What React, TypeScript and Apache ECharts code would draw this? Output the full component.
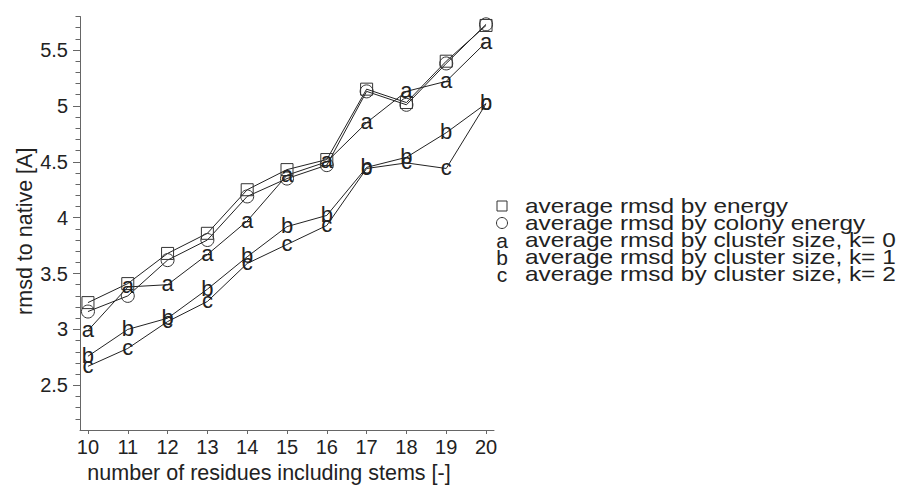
import React, { useEffect, useRef } from "react";
import * as echarts from "echarts";

// ---- data ----
const residues = [10, 11, 12, 13, 14, 15, 16, 17, 18, 19, 20];
const rmsdEnergy = [3.24, 3.41, 3.68, 3.86, 4.25, 4.43, 4.52, 5.15, 5.03, 5.4, 5.72];
const rmsdColony = [3.16, 3.3, 3.62, 3.8, 4.19, 4.35, 4.47, 5.13, 5.01, 5.38, 5.73];
const rmsdK0 = [2.99, 3.38, 3.4, 3.67, 3.97, 4.38, 4.5, 4.85, 5.13, 5.22, 5.57];
const rmsdK1 = [2.76, 3.0, 3.1, 3.36, 3.65, 3.92, 4.02, 4.45, 4.54, 4.76, 5.02];
const rmsdK2 = [2.67, 2.83, 3.07, 3.25, 3.59, 3.76, 3.93, 4.44, 4.49, 4.44, 5.02];

const xTicks = [10, 11, 12, 13, 14, 15, 16, 17, 18, 19, 20];
const yMajorTicks = [2.5, 3, 3.5, 4, 4.5, 5, 5.5];
const yMinorTicks = [
  2.2, 2.3, 2.4, 2.6, 2.7, 2.8, 2.9, 3.1, 3.2, 3.3, 3.4, 3.6, 3.7, 3.8, 3.9,
  4.1, 4.2, 4.3, 4.4, 4.6, 4.7, 4.8, 4.9, 5.1, 5.2, 5.3, 5.4, 5.6, 5.7, 5.8,
];

const seriesNames = [
  "average rmsd by energy",
  "average rmsd by colony energy",
  "average rmsd by cluster size, k= 0",
  "average rmsd by cluster size, k= 1",
  "average rmsd by cluster size, k= 2",
];
const letterMarks = ["a", "b", "c"];

const xTitle = "number of residues including stems [-]";
const yTitle = "rmsd to native [A]";

// ---- styling ----
const FONT = "'Liberation Sans', Arial, Helvetica, sans-serif";
const INK = "#222";
const AXIS = "#666";

function pairs(vals: number[]) {
  return residues.map((x, i) => [x, vals[i]]);
}

export default function App() {
  const ref = useRef<HTMLDivElement>(null);

  useEffect(() => {
    if (!ref.current) return;
    const chart = echarts.init(ref.current, null, { renderer: "svg" });

    const lineStyle = { color: INK, width: 1 };

    const letterSeries = [rmsdK0, rmsdK1, rmsdK2].map((vals, i) => ({
      type: "line",
      name: seriesNames[i + 2],
      data: pairs(vals),
      symbol: "circle",
      symbolSize: 2,
      itemStyle: { color: "rgba(0,0,0,0)" },
      lineStyle,
      label: {
        show: true,
        position: "inside",
        formatter: letterMarks[i],
        fontSize: 22,
        fontFamily: FONT,
        color: INK,
        offset: [0, -1],
      },
      silent: true,
    }));

    const legendX = 502;
    const legendTextX = 525;
    const rowY = [206, 223, 240, 257, 274];

    const graphic: any[] = [
      {
        type: "rect",
        shape: { x: legendX - 5, y: rowY[0] - 5, width: 10, height: 10 },
        style: { fill: "none", stroke: "#333", lineWidth: 1 },
      },
      {
        type: "circle",
        shape: { cx: legendX, cy: rowY[1], r: 5.5 },
        style: { fill: "none", stroke: "#333", lineWidth: 1 },
      },
    ];
    letterMarks.forEach((m, i) => {
      graphic.push({
        type: "text",
        x: legendX,
        y: rowY[i + 2],
        style: {
          text: m,
          fontSize: 21,
          fontFamily: FONT,
          fill: INK,
          align: "center",
          verticalAlign: "middle",
        },
      });
    });
    seriesNames.forEach((name, i) => {
      graphic.push({
        type: "text",
        x: legendTextX,
        y: rowY[i],
        scaleX: 1.22,
        style: {
          text: name,
          fontSize: 20,
          fontFamily: FONT,
          fill: INK,
          align: "left",
          verticalAlign: "middle",
        },
      });
    });

    chart.setOption({
      animation: false,
      backgroundColor: "#fff",
      grid: {
        left: 80,
        right: 406,
        top: 16.5,
        bottom: 55,
        containLabel: false,
        outerBoundsMode: "none",
      },
      xAxis: {
        type: "value",
        min: 9.8,
        max: 20.2,
        axisLine: { show: true, onZero: false, lineStyle: { color: AXIS, width: 1 } },
        axisTick: { show: true, length: 4, customValues: xTicks, lineStyle: { color: AXIS } },
        axisLabel: {
          customValues: xTicks,
          margin: 7,
          fontSize: 20,
          fontFamily: FONT,
          color: INK,
        },
        splitLine: { show: false },
        name: xTitle,
        nameLocation: "middle",
        nameGap: 27,
        nameTextStyle: {
          fontSize: 21.5,
          fontFamily: FONT,
          color: INK,
          padding: [0, 36, 0, 0],
        },
      },
      yAxis: [
        {
          type: "value",
          min: 2.1,
          max: 5.8,
          position: "left",
          axisLine: { show: true, onZero: false, lineStyle: { color: AXIS, width: 1 } },
          axisTick: { show: true, length: 7, customValues: yMajorTicks, lineStyle: { color: AXIS } },
          axisLabel: {
            customValues: yMajorTicks,
            margin: 12,
            fontSize: 20,
            fontFamily: FONT,
            color: INK,
          },
          splitLine: { show: false },
          name: yTitle,
          nameLocation: "middle",
          nameGap: 44,
          nameRotate: 90,
          nameTextStyle: {
            fontSize: 21.5,
            fontFamily: FONT,
            color: INK,
            padding: [0, 16, 0, 0],
          },
        },
        {
          type: "value",
          min: 2.1,
          max: 5.8,
          position: "left",
          offset: 0,
          axisLine: { show: false },
          axisTick: { show: true, length: 4.5, customValues: yMinorTicks, lineStyle: { color: AXIS } },
          axisLabel: { show: false },
          splitLine: { show: false },
        },
      ],
      series: [
        {
          type: "line",
          name: seriesNames[0],
          data: pairs(rmsdEnergy),
          symbol: "rect",
          symbolSize: 12,
          itemStyle: { color: "rgba(0,0,0,0)", borderColor: "#333", borderWidth: 1 },
          lineStyle,
          silent: true,
        },
        {
          type: "line",
          name: seriesNames[1],
          data: pairs(rmsdColony),
          symbol: "circle",
          symbolSize: 13,
          itemStyle: { color: "rgba(0,0,0,0)", borderColor: "#333", borderWidth: 1 },
          lineStyle,
          silent: true,
        },
        ...letterSeries,
      ],
      graphic,
    } as any);

    return () => chart.dispose();
  }, []);

  return (
    <div
      ref={ref}
      style={{ position: "fixed", left: 0, top: 0, width: 900, height: 485, background: "#fff" }}
    />
  );
}
